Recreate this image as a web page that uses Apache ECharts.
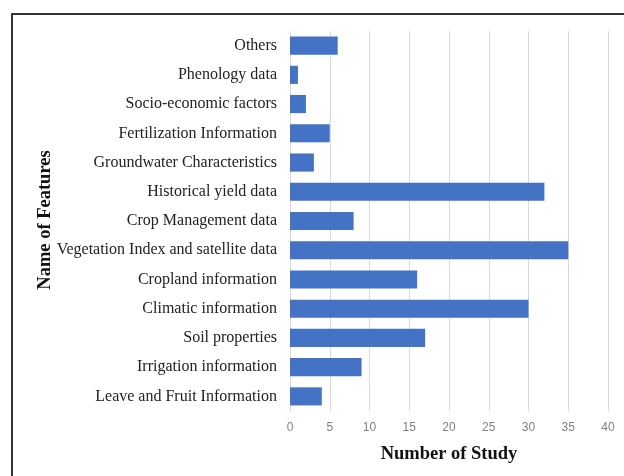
<!DOCTYPE html>
<html><head><meta charset="utf-8">
<script src="https://cdn.jsdelivr.net/npm/echarts@6/dist/echarts.min.js"></script>
<style>html,body{margin:0;padding:0;background:#fff}#c{width:624px;height:476px}</style>
</head><body><div id="c"></div>
<script>
const categories = ["Leave and Fruit Information","Irrigation information","Soil properties","Climatic information","Cropland information","Vegetation Index and satellite data","Crop Management data","Historical yield data","Groundwater Characteristics","Fertilization Information","Socio-economic factors","Phenology data","Others"];
const studies = [4,9,17,30,16,35,8,32,3,5,2,1,6];
const xTicks = {min:0,max:40,interval:5};
const yTitle = 'Name of Features';

const chart = echarts.init(document.getElementById('c'));
chart.setOption({
  animation:false,
  backgroundColor:'#fff',
  graphic:[
    {type:'rect',shape:{x:12,y:14,width:640,height:480},style:{fill:'none',stroke:'#333',lineWidth:2},z:-1},
    {type:'text',x:45,y:220,rotation:Math.PI/2,
     style:{text:yTitle,font:'bold 18.5px "Liberation Serif"',fill:'#111',align:'center',verticalAlign:'middle'}}
  ],
  grid:{left:290,right:16,top:31,bottom:65,containLabel:false},
  xAxis:{type:'value',min:xTicks.min,max:xTicks.max,interval:xTicks.interval,
    name:'Number of Study',nameLocation:'middle',nameGap:34,
    nameTextStyle:{fontFamily:'Liberation Serif',fontWeight:'bold',fontSize:18.5,color:'#111'},
    axisLine:{show:false},axisTick:{show:false},
    axisLabel:{color:'#7f7f7f',fontFamily:'Liberation Sans',fontSize:12,margin:11},
    splitLine:{show:true,lineStyle:{color:'#d9d9d9',width:1}}},
  yAxis:{type:'category',data:categories,
    axisLine:{show:false},axisTick:{show:false},
    axisLabel:{color:'#222',fontFamily:'Liberation Serif',fontSize:16,margin:13}},
  series:[{type:'bar',data:studies,barCategoryGap:'38%',itemStyle:{color:'#4472C4'}}]
});
</script></body></html>
